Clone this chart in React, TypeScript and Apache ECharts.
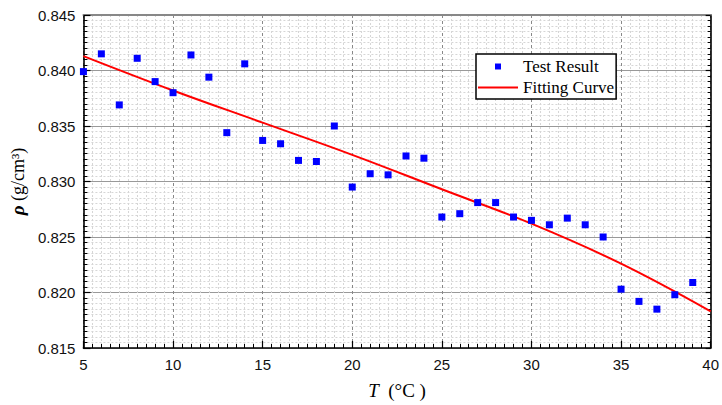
import React, { useEffect, useRef } from "react";
import * as echarts from "echarts";

const temperatures = [5, 6, 7, 8, 9, 10, 11, 12, 13, 14, 15, 16, 17, 18, 19, 20, 21, 22, 23, 24, 25, 26, 27, 28, 29, 30, 31, 32, 33, 34, 35, 36, 37, 38, 39];
const densities = [
  0.8399, 0.8415, 0.8369, 0.8411, 0.839, 0.838, 0.8414, 0.8394, 0.8344, 0.8406,
  0.8337, 0.8334, 0.8319, 0.8318, 0.835, 0.8295, 0.8307, 0.8306, 0.8323, 0.8321,
  0.8268, 0.8271, 0.8281, 0.8281, 0.8268, 0.8265, 0.8261, 0.8267, 0.8261, 0.825,
  0.8203, 0.8192, 0.8185, 0.8198, 0.8209,
];
const fitTemperatures = [5, 10, 15, 20, 25, 30, 35, 40];
const fitDensities = [0.8413, 0.8382, 0.8353, 0.8324, 0.8293, 0.8262, 0.8226, 0.8183];

const xMin = 5, xMax = 40, xStep = 5;
const yMin = 0.815, yMax = 0.845, yStep = 0.005;

export default function App() {
  const ref = useRef<HTMLDivElement>(null);
  useEffect(() => {
    if (!ref.current) return;
    const chart = echarts.init(ref.current, undefined, { renderer: "svg" });
    const labelFont = { fontFamily: "Liberation Sans", fontSize: 15, color: "#111" };
    const minorSplit = { show: true, lineStyle: { color: "#d6d6d6", type: [2, 2] as any, width: 1 } };
    const tick = { show: true, inside: true, length: 7, lineStyle: { color: "#000", width: 1.2 } };
    const minorTick = { show: true, splitNumber: 10, length: 4, lineStyle: { color: "#000", width: 1 } };
    chart.setOption({
      animation: false,
      backgroundColor: "#fff",
      grid: { left: 83, right: 4, top: 15, bottom: 57, containLabel: false },
      legend: {
        orient: "vertical",
        left: 476,
        top: 54,
        padding: [4, 2, 3, 2],
        itemGap: 4,
        itemWidth: 40,
        itemHeight: 14,
        borderColor: "#000",
        borderWidth: 1.5,
        borderRadius: 0,
        backgroundColor: "#fff",
        textStyle: { fontFamily: "Liberation Serif", fontSize: 17, color: "#000" },
        data: [
          { name: "Test Result", icon: "path://M0,0M40,14M17,4h6v6h-6z" },
          { name: "Fitting Curve", icon: "path://M0,0M40,14M0,6h40v2h-40z" },
        ],
      },
      xAxis: [
        {
          type: "value",
          min: xMin,
          max: xMax,
          interval: xStep,
          name: "{t|T}{u|  (°C )}",
          nameLocation: "middle",
          nameGap: 33,
          nameTextStyle: {
            rich: {
              t: { fontFamily: "Liberation Serif", fontStyle: "italic", fontSize: 19, color: "#000" },
              u: { fontFamily: "Liberation Serif", fontSize: 19, color: "#000" },
            },
          },
          axisLine: { show: true, onZero: false, lineStyle: { color: "#000", width: 1.6 } },
          axisTick: tick,
          minorTick,
          axisLabel: { ...labelFont, margin: 9 },
          splitLine: { show: true, lineStyle: { color: "#888", type: [3, 3] as any, width: 1 } },
          minorSplitLine: minorSplit,
        },
        {
          type: "value",
          position: "top",
          min: xMin,
          max: xMax,
          interval: xStep,
          axisLine: { show: true, onZero: false, lineStyle: { color: "#888", width: 2 } },
          axisTick: { show: false },
          axisLabel: { show: false },
          splitLine: { show: false },
        },
      ],
      yAxis: [
        {
          type: "value",
          min: yMin,
          max: yMax,
          interval: yStep,
          name: "{r|ρ}{u| (g/cm³)}",
          nameLocation: "middle",
          nameGap: 44,
          nameTextStyle: {
            rich: {
              r: { fontFamily: "Liberation Serif", fontStyle: "italic", fontWeight: "bold", fontSize: 19, color: "#000" },
              u: { fontFamily: "Liberation Serif", fontSize: 18, color: "#000" },
            },
          },
          axisLine: { show: true, onZero: false, lineStyle: { color: "#000", width: 1.6 } },
          axisTick: tick,
          minorTick,
          axisLabel: { ...labelFont, margin: 8, formatter: (v: number) => v.toFixed(3) },
          splitLine: { show: true, lineStyle: { color: "#999", type: "solid", width: 1 } },
          minorSplitLine: minorSplit,
        },
        {
          type: "value",
          position: "right",
          min: yMin,
          max: yMax,
          interval: yStep,
          axisLine: { show: true, onZero: false, lineStyle: { color: "#000", width: 1.6 } },
          axisTick: { show: true, inside: true, length: 5, lineStyle: { color: "#000", width: 1.2 } },
          minorTick: { show: true, splitNumber: 10, length: 3, lineStyle: { color: "#000", width: 1 } },
          axisLabel: { show: false },
          splitLine: { show: false },
        },
      ],
      series: [
        {
          name: "Test Result",
          type: "scatter",
          symbol: "rect",
          symbolSize: 7,
          itemStyle: { color: "#0000ff", opacity: 1 },
          data: temperatures.map((t, i) => [t, densities[i]]),
          z: 4,
        },
        {
          name: "Fitting Curve",
          type: "line",
          smooth: 0.4,
          symbol: "none",
          lineStyle: { color: "#ff0000", width: 2 },
          itemStyle: { color: "#ff0000" },
          data: fitTemperatures.map((t, i) => [t, fitDensities[i]]),
          z: 3,
        },
      ],
    });
    return () => chart.dispose();
  }, []);
  return <div ref={ref} style={{ position: "fixed", left: 0, top: 0, width: 722, height: 405 }} />;
}
